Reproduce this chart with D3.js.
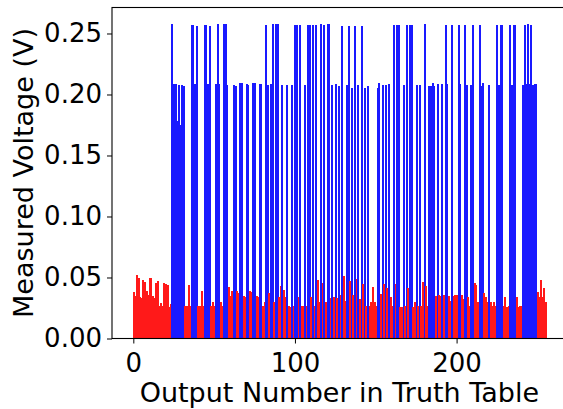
<!DOCTYPE html>
<html>
<head>
<meta charset="utf-8">
<script src="https://cdn.jsdelivr.net/npm/d3@7"></script>
<style>
  html, body { margin: 0; padding: 0; background: #fff; }
  svg { display: block; }
  text { font-family: "DejaVu Sans", sans-serif; fill: #000; }
</style>
</head>
<body>
<svg id="chart" width="563" height="409"></svg>
<script>
// Measured voltage for each of the 256 truth-table outputs (index = output number)
const measuredVoltage = [
  0.038,0.035,0.052,0.0496,0.034,0.033,0.048,0.046,0.039,0.0356,0.0496,0.0496,0.035,0.033,0.0455,0.047,
  0.0266,0.029,0.0266,0.0455,0.0447,0.044,0.0258,0.028,0.258,0.209,0.209,0.178,0.208,0.175,0.208,0.207,
  0.0266,0.0266,0.044,0.0266,0.257,0.257,0.209,0.256,0.0266,0.0266,0.039,0.0266,0.257,0.257,0.209,0.256,
  0.0266,0.030,0.0266,0.209,0.258,0.209,0.030,0.0266,0.258,0.258,0.208,0.0425,0.035,0.039,0.208,0.207,
  0.039,0.037,0.2097,0.2097,0.035,0.034,0.209,0.208,0.039,0.038,0.2097,0.2097,0.035,0.034,0.209,0.209,
  0.0266,0.030,0.257,0.208,0.037,0.209,0.258,0.030,0.258,0.258,0.034,0.043,0.208,0.040,0.034,0.208,
  0.0266,0.0258,0.208,0.0266,0.257,0.257,0.034,0.257,0.0266,0.0266,0.208,0.0266,0.257,0.257,0.034,0.257,
  0.0266,0.257,0.048,0.030,0.258,0.0455,0.257,0.030,0.258,0.258,0.033,0.208,0.034,0.209,0.033,0.207,
  0.0357,0.256,0.051,0.031,0.208,0.256,0.047,0.205,0.036,0.256,0.049,0.208,0.032,0.256,0.045,0.205,
  0.027,0.207,0.027,0.030,0.042,0.030,0.027,0.205,0.2097,0.0365,0.208,0.045,0.208,0.041,0.209,0.034,
  0.027,0.257,0.045,0.257,0.257,0.026,0.026,0.208,0.027,0.257,0.041,0.257,0.257,0.026,0.030,0.208,
  0.027,0.208,0.027,0.046,0.258,0.043,0.027,0.207,0.207,0.2097,0.207,0.035,0.209,0.036,0.035,0.209,
  0.0357,0.257,0.209,0.035,0.031,0.257,0.035,0.0357,0.0357,0.257,0.209,0.0357,0.032,0.257,0.208,0.034,
  0.027,0.208,0.257,0.0455,0.044,0.030,0.257,0.207,0.2097,0.0373,0.034,0.030,0.208,0.030,0.027,0.030,
  0.027,0.257,0.208,0.257,0.257,0.027,0.034,0.026,0.027,0.257,0.208,0.257,0.257,0.034,0.026,0.027,
  0.0266,0.208,0.257,0.209,0.258,0.209,0.257,0.208,0.209,0.209,0.038,0.034,0.048,0.034,0.041,0.030
];

// Expected logic level of each output (1 = high, drawn blue; 0 = low, drawn red)
const highOutput = [
  0,0,0,0,0,0,0,0,0,0,0,0,0,0,0,0,
  0,0,0,0,0,0,0,0,1,1,1,1,1,1,1,1,
  0,0,0,0,1,1,1,1,0,0,0,0,1,1,1,1,
  0,0,0,1,1,1,0,0,1,1,1,0,0,0,1,1,
  0,0,1,1,0,0,1,1,0,0,1,1,0,0,1,1,
  0,0,1,1,0,1,1,0,1,1,0,0,1,0,0,1,
  0,0,1,0,1,1,0,1,0,0,1,0,1,1,0,1,
  0,1,0,0,1,0,1,0,1,1,0,1,0,1,0,1,
  0,1,0,0,1,1,0,1,0,1,0,1,0,1,0,1,
  0,1,0,0,0,0,0,1,1,0,1,0,1,0,1,0,
  0,1,0,1,1,0,0,1,0,1,0,1,1,0,0,1,
  0,1,0,0,1,0,0,1,1,1,1,0,1,0,0,1,
  0,1,1,0,0,1,0,0,0,1,1,0,0,1,1,0,
  0,1,1,0,0,0,1,1,1,0,0,0,1,0,0,0,
  0,1,1,1,1,0,0,0,0,1,1,1,1,0,0,0,
  0,1,1,1,1,1,1,1,1,1,0,0,0,0,0,0
];

const xTickValues = [0, 100, 200];
const yTickValues = [0.00, 0.05, 0.10, 0.15, 0.20, 0.25];
const xAxisTitle = "Output Number in Truth Table";
const yAxisTitle = "Measured Voltage (V)";

const data = measuredVoltage.map((v, i) => ({ index: i, value: v, high: highOutput[i] === 1 }));

const svg = d3.select("#chart");
const plotLeft = 112, plotTop = 7.5, plotRight = 566.8, plotBottom = 338.5;

const x = d3.scaleLinear().domain([-13.19, 268.19]).range([plotLeft, plotRight]);
const y = d3.scaleLinear().domain([0, 0.2713]).range([plotBottom, plotTop]);
const barWidth = 0.8;

const g = svg.append("g").attr("shape-rendering", "crispEdges");

g.selectAll("rect.bar")
  .data(data)
  .join("rect")
  .attr("class", "bar")
  .attr("x", d => Math.round(x(d.index - barWidth / 2)))
  .attr("width", d => Math.max(2, Math.round(x(d.index + barWidth / 2)) - Math.round(x(d.index - barWidth / 2))))
  .attr("y", d => Math.round(y(d.value)))
  .attr("height", d => Math.round(y(0)) - Math.round(y(d.value)))
  .attr("fill", d => d.high ? "rgb(25,25,255)" : "rgb(255,25,25)");

// Axes
const xAxis = d3.axisBottom(x).tickValues(xTickValues).tickFormat(d3.format("d")).tickSize(5).tickPadding(5);
const yAxis = d3.axisLeft(y).tickValues(yTickValues).tickFormat(d3.format(".2f")).tickSize(5).tickPadding(5);

const gx = svg.append("g").attr("transform", `translate(0,${plotBottom})`).call(xAxis);
const gy = svg.append("g").attr("transform", `translate(${plotLeft},0)`).call(yAxis);

[gx, gy].forEach(a => {
  a.select(".domain").remove();
  a.selectAll(".tick line").attr("stroke", "#000").attr("stroke-width", 1);
  a.selectAll(".tick text").style("font-family", "'DejaVu Sans', sans-serif").style("font-size", "26px").attr("fill", "#000");
});
gx.selectAll(".tick text").attr("y", 15);

// Spines
svg.append("rect")
  .attr("x", plotLeft)
  .attr("y", plotTop)
  .attr("width", plotRight - plotLeft)
  .attr("height", plotBottom - plotTop)
  .attr("fill", "none")
  .attr("stroke", "#000")
  .attr("stroke-width", 1.1);

// Titles
svg.append("text")
  .attr("x", (plotLeft + plotRight) / 2)
  .attr("y", 402)
  .attr("text-anchor", "middle")
  .style("font-size", "27px")
  .text(xAxisTitle);

svg.append("text")
  .attr("transform", `translate(33,${(plotTop + plotBottom) / 2}) rotate(-90)`)
  .attr("text-anchor", "middle")
  .style("font-size", "27px")
  .text(yAxisTitle);
</script>
</body>
</html>
